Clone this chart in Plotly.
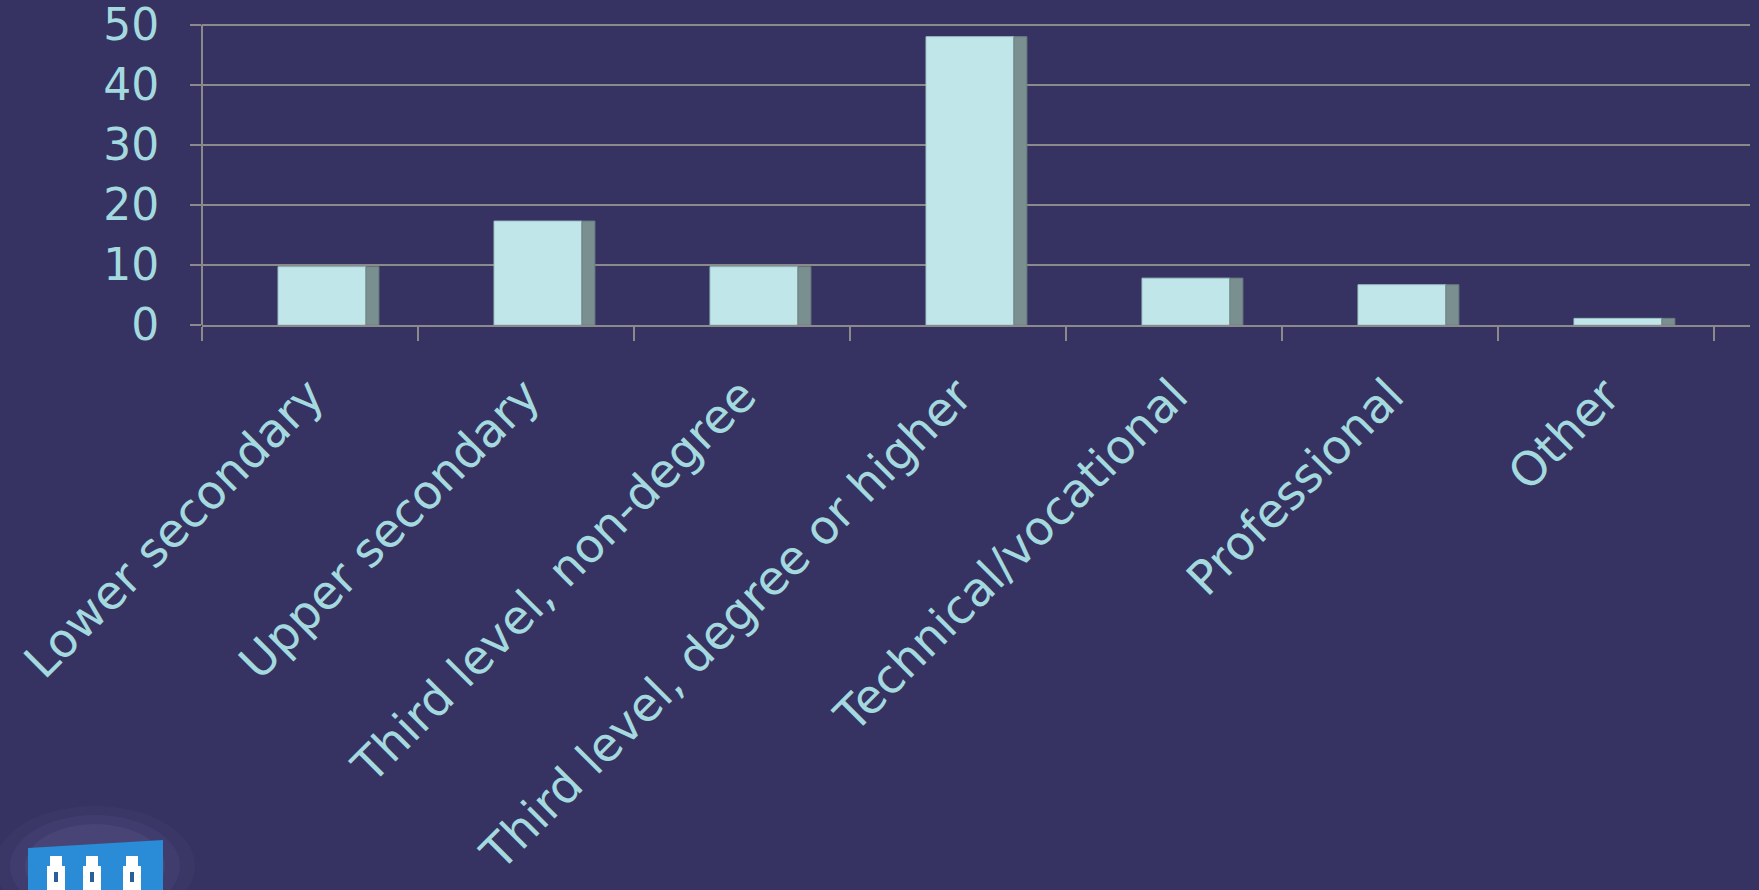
import plotly.graph_objects as go

categories = ["Lower secondary", "Upper secondary", "Third level, non-degree",
              "Third level, degree or higher", "Technical/vocational",
              "Professional", "Other"]
values = [9.7, 17.3, 9.7, 48.0, 7.8, 6.7, 1.1]
y_ticks = [0, 10, 20, 30, 40, 50]

BG = "#363362"
FRONT = "#c0e6ea"
SIDE = "#7a8f90"
GRID = "#8a8a8a"
TXT = "#a3d9df"

fig = go.Figure()
fig.add_trace(go.Bar(x=categories, y=values, width=0.407, offset=-0.148,
                     marker=dict(color=FRONT, line=dict(color="#9fc4c8", width=1)),
                     hoverinfo="x+y"))
fig.add_trace(go.Bar(x=categories, y=values, width=0.06, offset=0.259,
                     marker=dict(color=SIDE, line=dict(color="#6c8081", width=1)),
                     hoverinfo="skip"))

# logo decoration (bottom-left)
shapes = []
def px2paper(px, py):
    return (px - 202) / 1548, (325 - py) / 302.0

for r, op in [(100, 0.04), (85, 0.06), (70, 0.08)]:
    gx0, gy0 = px2paper(95 - r, 866 - r * 0.6)
    gx1, gy1 = px2paper(95 + r, 866 + r * 0.6)
    shapes.append(dict(type="circle", xref="paper", yref="paper", x0=gx0, y0=gy0, x1=gx1, y1=gy1,
                       fillcolor=f"rgba(170,160,220,{op})", line=dict(width=0), layer="above"))
bx0, by0 = px2paper(28, 848)
bx1, by1 = px2paper(163, 840)
bx2, by2 = px2paper(163, 892)
bx3, by3 = px2paper(28, 892)
shapes.append(dict(type="path", xref="paper", yref="paper",
                   path=f"M {bx0} {by0} L {bx1} {by1} L {bx2} {by2} L {bx3} {by3} Z",
                   fillcolor="#2a8bd6", line=dict(width=0), layer="above"))
for cx in [56, 92, 132]:
    tx0, ty0 = px2paper(cx - 9, 890)
    tx1, ty1 = px2paper(cx + 9, 866)
    shapes.append(dict(type="rect", xref="paper", yref="paper", x0=tx0, y0=ty0, x1=tx1, y1=ty1,
                       fillcolor="white", line=dict(width=0), layer="above"))
    rx0, ry0 = px2paper(cx - 6, 866)
    rx1, ry1 = px2paper(cx + 6, 856)
    shapes.append(dict(type="rect", xref="paper", yref="paper", x0=rx0, y0=ry0, x1=rx1, y1=ry1,
                       fillcolor="white", line=dict(width=0), layer="above"))
    wx0, wy0 = px2paper(cx - 2, 882)
    wx1, wy1 = px2paper(cx + 2, 872)
    shapes.append(dict(type="rect", xref="paper", yref="paper", x0=wx0, y0=wy0, x1=wx1, y1=wy1,
                       fillcolor="#2a5f9a", line=dict(width=0), layer="above"))

fig.update_layout(
    width=1759, height=890,
    paper_bgcolor=BG, plot_bgcolor=BG,
    margin=dict(l=202, r=9, t=23, b=565, autoexpand=False),
    barmode="overlay", showlegend=False,
    font=dict(family="DejaVu Sans", color=TXT, size=44),
    shapes=shapes,
    xaxis=dict(type="category", range=[-0.5, 6.667], tickson="boundaries",
               ticks="outside", ticklen=14, tickwidth=2, tickcolor=GRID,
               showgrid=False, showline=True, linecolor=GRID, linewidth=2,
               tickangle=-45, tickfont=dict(size=47, color=TXT), zeroline=False,
               ticklabelstandoff=22),
    yaxis=dict(range=[0, 50.28], tickvals=y_ticks, ticks="outside", ticklen=11,
               tickwidth=2, tickcolor=GRID, showgrid=True, gridcolor=GRID, gridwidth=2,
               showline=False, zeroline=False,
               tickfont=dict(size=44, color=TXT), ticklabelstandoff=22,
               ticklabeloverflow="allow"),
)
# y-axis vertical line from 0 to 50 (extends slightly below like the reference)
fig.add_shape(type="line", xref="paper", yref="y", x0=0, x1=0, y0=-2.3, y1=50,
              line=dict(color=GRID, width=2), layer="above")

fig.write_html("out.html", config={"displayModeBar": False},
               post_script="document.body.style.margin='0';document.body.style.background='#363362';")
